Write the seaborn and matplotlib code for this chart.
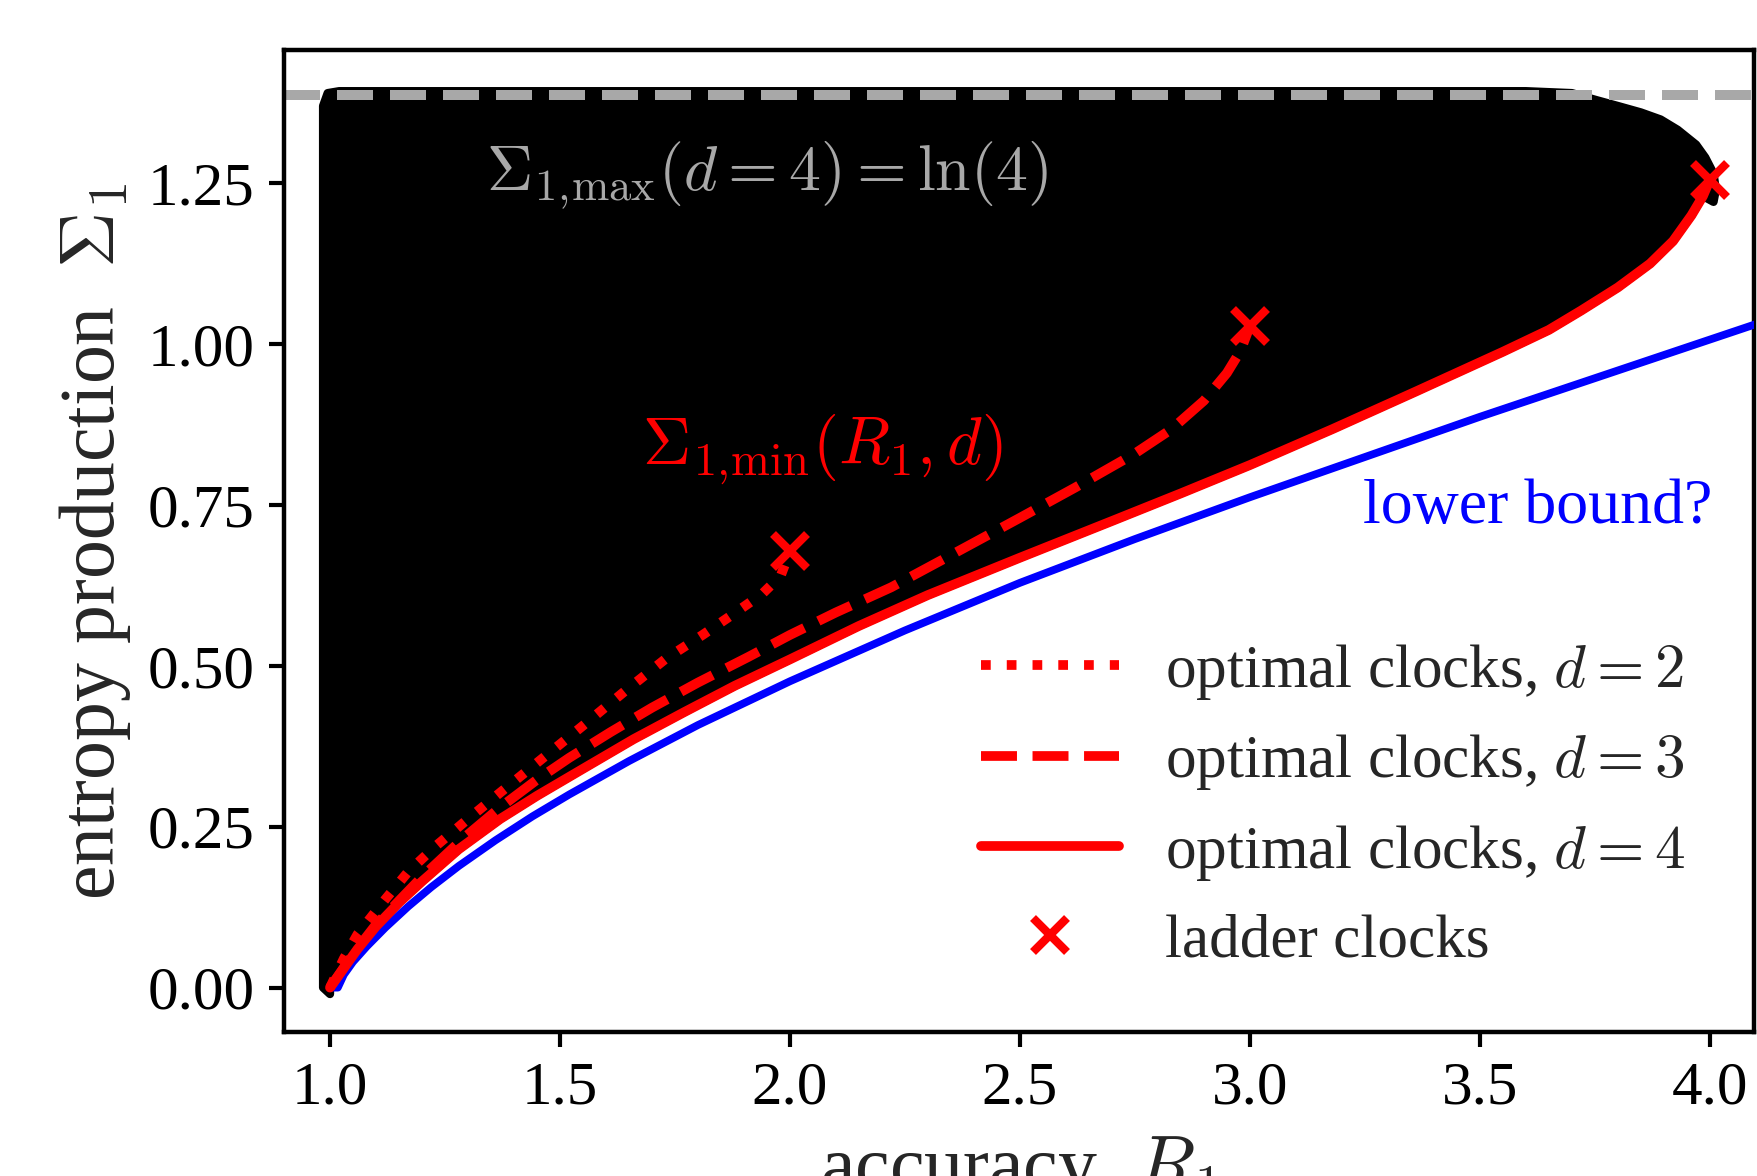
import numpy as np
import matplotlib
matplotlib.use("Agg")
import matplotlib.pyplot as plt
import seaborn as sns

sns.set_theme(style="ticks")
plt.rcParams["font.family"] = ["Liberation Serif", "DejaVu Serif"]
plt.rcParams["mathtext.fontset"] = "cm"

# ─────────────────────────────────────────────
# Data
# ─────────────────────────────────────────────

# optimal clocks, d = 2 / 3 / 4   (accuracy R1, entropy production Sigma1)
d2_r = [1.0, 1.03, 1.06, 1.12, 1.17, 1.23, 1.30, 1.37, 1.46, 1.55, 1.64, 1.73,
        1.81, 1.88, 1.94, 1.98, 2.0]
d2_s = [0.0, 0.045, 0.083, 0.137, 0.18, 0.22, 0.262, 0.303, 0.355, 0.407, 0.46,
        0.511, 0.548, 0.582, 0.612, 0.64, 0.678]

d3_r = [1.0, 1.05, 1.1, 1.2, 1.29, 1.37, 1.45, 1.52, 1.61, 1.70, 1.8, 1.91, 2.0,
        2.1, 2.22, 2.35, 2.5, 2.62, 2.75, 2.83, 2.9, 2.95, 2.98, 3.0]
d3_s = [0.0, 0.052, 0.098, 0.172, 0.232, 0.28, 0.323, 0.357, 0.397, 0.435,
        0.474, 0.514, 0.548, 0.583, 0.622, 0.672, 0.73, 0.777, 0.83, 0.868,
        0.912, 0.955, 0.99, 1.028]

d4_r = [1.0, 1.03, 1.06, 1.10, 1.15, 1.20, 1.28, 1.37, 1.45, 1.55, 1.66, 1.77,
        1.88, 2.0, 2.15, 2.3, 2.5, 2.7, 2.85, 3.0, 3.18, 3.36, 3.55, 3.65, 3.72,
        3.80, 3.87, 3.92, 3.96, 3.985, 4.0]
d4_s = [0.0, 0.03, 0.06, 0.095, 0.132, 0.165, 0.215, 0.262, 0.298, 0.34, 0.386,
        0.428, 0.469, 0.51, 0.562, 0.61, 0.668, 0.725, 0.768, 0.812, 0.868,
        0.926, 0.988, 1.022, 1.052, 1.088, 1.125, 1.16, 1.20, 1.23, 1.255]

# ladder clocks
ladder_r = [2.0, 3.0, 4.0]
ladder_s = [0.678, 1.028, 1.255]

# conjectured lower bound
lb_r = [1.0, 1.017, 1.03, 1.05, 1.08, 1.12, 1.17, 1.22, 1.28, 1.36, 1.44, 1.52,
        1.65, 1.80, 2.0, 2.25, 2.5, 2.75, 3.0, 3.5, 4.1]
lb_s = [0.0, 0.0, 0.020, 0.040, 0.064, 0.093, 0.126, 0.156, 0.189, 0.229, 0.266,
        0.300, 0.352, 0.408, 0.476, 0.555, 0.629, 0.697, 0.762, 0.887, 1.031]

# outline of the cloud of random clocks (upper / right part; lower edge = d=4 curve)
cloud_r = [1.0, 0.985, 0.985, 0.995, 1.02, 3.60, 3.70, 3.754, 3.80, 3.85,
           3.893, 3.93, 3.97, 3.99, 4.008, 4.013, 4.008]
cloud_s = [-0.01, 0.0, 1.37, 1.39, 1.393, 1.393, 1.390, 1.379, 1.370, 1.36,
           1.349, 1.333, 1.31, 1.29, 1.265, 1.24, 1.221]

SIGMA_MAX = np.log(4)

XTICKS = [1.0, 1.5, 2.0, 2.5, 3.0, 3.5, 4.0]
YTICKS = [0.0, 0.25, 0.50, 0.75, 1.00, 1.25]

RED = "#ff0000"
BLUE = "#0000ff"
GREY = "#a8a8a8"

# ─────────────────────────────────────────────
# Figure
# ─────────────────────────────────────────────

fig = plt.figure(figsize=(8.785, 5.88), dpi=200)
ax = fig.add_axes([284 / 1757, 1 - 1032 / 1176, 1470 / 1757, 982 / 1176])

# black cloud: upper outline followed by the d=4 curve walked backwards
poly_r = cloud_r + [r for r in d4_r[::-1] if r < 3.99]
poly_s = cloud_s + [s for r, s in zip(d4_r[::-1], d4_s[::-1]) if r < 3.99]
ax.fill(poly_r, poly_s, facecolor="black", edgecolor="black",
        linewidth=3, joinstyle="round", zorder=1)

# ln(4) line
ax.axhline(SIGMA_MAX, color=GREY, linewidth=3.6, dashes=(3.6, 1.7), zorder=2)

sns.lineplot(x=lb_r, y=lb_s, color=BLUE, linewidth=2.8, sort=False,
             label="_lb", ax=ax, zorder=3)
sns.lineplot(x=d2_r, y=d2_s, color=RED, linewidth=3.5, linestyle=":",
             sort=False, label=r"optimal clocks, $d=2$", ax=ax, zorder=4)
sns.lineplot(x=d3_r, y=d3_s, color=RED, linewidth=3.5, linestyle="--",
             sort=False, label=r"optimal clocks, $d=3$", ax=ax, zorder=4)
sns.lineplot(x=d4_r, y=d4_s, color=RED, linewidth=3.5, linestyle="-",
             sort=False, label=r"optimal clocks, $d=4$", ax=ax, zorder=4)
ax.plot(ladder_r, ladder_s, linestyle="none", marker="x", markersize=12,
        markeredgewidth=3, color=RED, label="ladder clocks", zorder=5)

# annotations
ax.text(1.95, 1.262, r"$\Sigma_{1,\!\max}(d=4)=\ln(4)$", color=GREY,
        fontsize=23, ha="center", va="center", zorder=6)
ax.text(2.07, 0.835, r"$\Sigma_{1,\!\min}(R_1,d)$", color=RED,
        fontsize=24, ha="center", va="center", zorder=6)
ax.text(4.005, 0.745, "lower bound?", color=BLUE, fontsize=23,
        ha="right", va="center", zorder=6)

# axes
ax.set_xlim(0.9, 4.096)
ax.set_ylim(-0.069, 1.457)
ax.set_xticks(XTICKS)
ax.set_yticks(YTICKS)
ax.set_xticklabels([f"{t:.1f}" for t in XTICKS])
ax.set_yticklabels([f"{t:.2f}" for t in YTICKS])
ax.tick_params(direction="out", length=5.5, width=1.5, labelsize=22,
               pad=5, color="black", labelcolor="black")
for sp in ax.spines.values():
    sp.set_linewidth(1.6)
    sp.set_color("black")

ax.set_xlabel(r"accuracy  $R_1$", fontsize=28)
ax.set_ylabel(r"entropy production  $\Sigma_1$", fontsize=28)
ax.xaxis.set_label_coords(0.5, -0.104)
ax.yaxis.set_label_coords(-0.103, 0.5)

handles, labels = ax.get_legend_handles_labels()
keep = [(h, l) for h, l in zip(handles, labels) if not l.startswith("_")]
ax.legend([h for h, _ in keep], [l for _, l in keep],
          loc="lower right", bbox_to_anchor=(0.953, 0.064), frameon=False,
          fontsize=22, handlelength=2.25, handletextpad=0.75,
          labelspacing=0.5, borderpad=0, borderaxespad=0)

fig.savefig("out.png", dpi=200)
